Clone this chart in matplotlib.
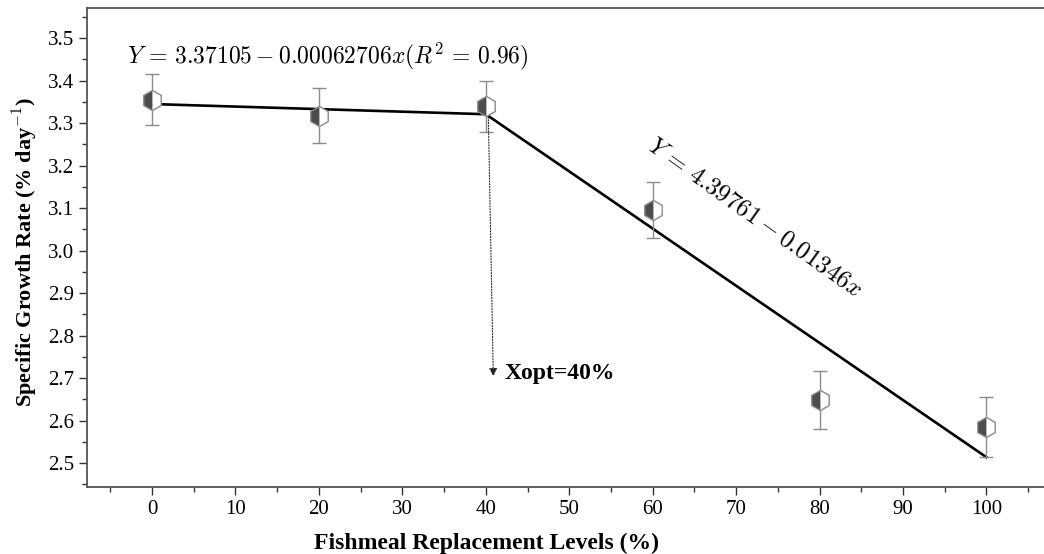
import numpy as np
import matplotlib.pyplot as plt
from matplotlib.ticker import MultipleLocator

# measured points
levels = [0, 20, 40, 60, 80, 100]
sgr = [3.355, 3.318, 3.340, 3.095, 2.648, 2.585]
sgr_err = [0.060, 0.065, 0.060, 0.066, 0.068, 0.070]

# broken-line fit
fit_x = [0, 40, 100]
fit_y = [3.345, 3.321, 2.514]
x_opt = 40

plt.rcParams['font.family'] = ['Liberation Serif', 'DejaVu Serif']
plt.rcParams['mathtext.fontset'] = 'cm'

fig = plt.figure(figsize=(10.44, 5.54), dpi=100)
ax = fig.add_axes([0.0833, 0.121, 0.9167, 0.8646])

ax.plot(fit_x, fit_y, color='black', lw=1.9, zorder=2)

ax.errorbar(levels, sgr, yerr=sgr_err, fmt='none', ecolor='#8c8c8c',
            elinewidth=1.0, capsize=5, capthick=1.0, zorder=3)
ax.plot(levels, sgr, linestyle='none', marker='h', markersize=14.5,
        fillstyle='left', markerfacecolor='#4d4d4d', markerfacecoloralt='white',
        markeredgecolor='#8a8a8a', markeredgewidth=1.0, zorder=4)

# optimum arrow
ax.annotate('', xy=(x_opt + 0.9, 2.704), xytext=(x_opt + 0.3, fit_y[1]),
            arrowprops=dict(arrowstyle='-|>', linestyle=(0, (1, 1.5)), color='#222222',
                            lw=0.8, mutation_scale=12, shrinkA=0, shrinkB=0))
ax.text(x_opt + 2.2, 2.71, 'Xopt=40%', fontsize=17, fontweight='bold', va='center')

ax.text(-3.0, 3.458, r'$Y\,=\,3.37105-0.00062706x(R^2\,=\,0.96)$', fontsize=17, va='center')
ax.text(72.2, 3.078, r'$Y\,=\,4.39761-0.01346x$', fontsize=18, va='center', ha='center',
        rotation=-35.5, rotation_mode='anchor')

ax.set_xlim(-7.8, 106.9)
ax.set_ylim(2.444, 3.571)
ax.xaxis.set_major_locator(MultipleLocator(10))
ax.xaxis.set_minor_locator(MultipleLocator(5))
ax.yaxis.set_major_locator(MultipleLocator(0.1))
ax.yaxis.set_minor_locator(MultipleLocator(0.05))
ax.yaxis.set_major_formatter(plt.FormatStrFormatter('%.1f'))
ax.tick_params(which='major', length=6, width=1, labelsize=15, direction='out', colors='#333333')
ax.tick_params(which='minor', length=3.5, width=1, direction='out', colors='#333333')
ax.tick_params(axis='both', labelcolor='black')
ax.spines['right'].set_visible(False)
for s in ['left', 'bottom', 'top']:
    ax.spines[s].set_color('#555555')
    ax.spines[s].set_linewidth(1.3)

ax.set_xlabel('Fishmeal Replacement Levels (%)', fontsize=17, fontweight='bold')
ax.xaxis.set_label_coords(0.417, -0.095)
ax.set_ylabel('Specific Growth Rate (% day$^{\\mathbf{-1}}$)', fontsize=16, fontweight='bold')
ax.yaxis.set_label_coords(-0.049, 0.49)

fig.savefig('out.png', dpi=100)
